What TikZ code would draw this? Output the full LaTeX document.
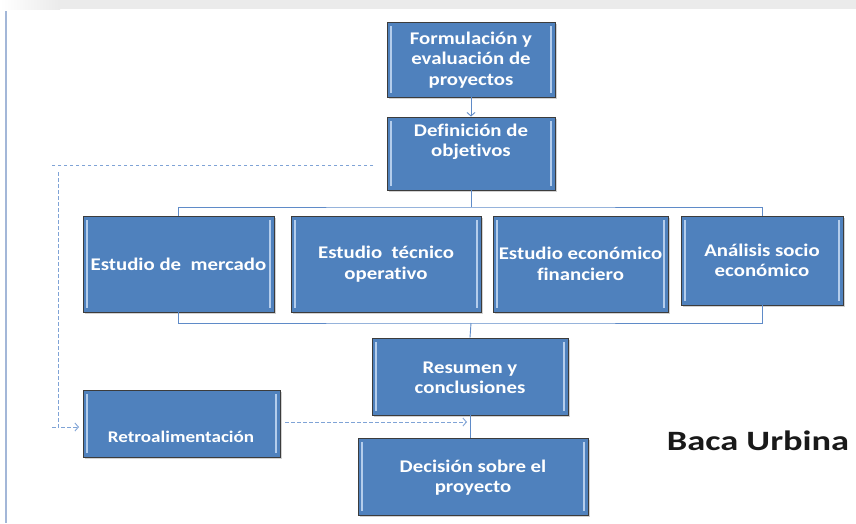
\documentclass[tikz,border=0pt]{standalone}
\usepackage{fontspec}
\newfontfamily\boxfont{Carlito}[FakeStretch=1.17,Ligatures={NoCommon}]
\newfontfamily\bacafont{Carlito}[FakeStretch=1.3,Ligatures={NoCommon}]
\usetikzlibrary{arrows.meta,shadows}
\definecolor{boxblue}{HTML}{4F81BD}
\definecolor{boxlight}{HTML}{B4CDEC}
\definecolor{boxedge}{HTML}{3C3C3C}
\definecolor{connblue}{HTML}{5F8BC8}
\definecolor{fbblue}{HTML}{7FA3D6}
\definecolor{edgeline}{HTML}{A3B7D8}
\begin{document}
\begin{tikzpicture}[x=1pt,y=-1pt,
  box/.style={draw=boxedge,line width=0.9pt,fill=boxblue,
    drop shadow={shadow xshift=1.5pt,shadow yshift=-1.5pt,opacity=0.35},
    path picture={
      \fill[boxlight] ([xshift=3pt,yshift=-4pt]path picture bounding box.north west)
         rectangle ([xshift=5pt,yshift=4pt]path picture bounding box.south west);
      \fill[boxlight] ([xshift=-3pt,yshift=-4pt]path picture bounding box.north east)
         rectangle ([xshift=-5pt,yshift=4pt]path picture bounding box.south east);
    }},
  btext/.style={text=white,align=center,inner sep=0pt,
    font=\boxfont\bfseries\fontsize{17.8}{20.5}\selectfont},
  conn/.style={draw=connblue,line width=0.9pt},
  fb/.style={draw=fbblue,line width=0.9pt,dash pattern=on 3.5pt off 2.5pt},
  tip/.style={-{Straight Barb[length=3.5pt,width=8pt]}}
]
\useasboundingbox (0,0) rectangle (856,523);
% background
\fill[white] (0,0) rectangle (856,523);
\shade[left color=white,right color=black!8] (0,0) rectangle (60,9);
\fill[black!8] (60,0) rectangle (856,9);
\draw[color=edgeline,line width=1.5pt] (6,11) -- (6,523);

% boxes
\node[box,minimum width=168pt,minimum height=75pt] (f) at (471,59.5) {};
\node[btext] (ft) at (471,60) {Formulación y\\evaluación de\\proyectos};
\node[box,minimum width=168pt,minimum height=73pt] (d) at (471,153.5) {};
\node[btext] (dt) at (471,142) {Definición de\\objetivos};
\node[box,minimum width=191pt,minimum height=96pt] (m) at (178.5,264) {};
\node[btext] (mt) at (178.5,264) {Estudio de\ \ mercado};
\node[box,minimum width=190pt,minimum height=96pt] (t) at (386,264) {};
\node[btext] (tt) at (386,264) {Estudio\ \ técnico\\operativo};
\node[box,minimum width=175pt,minimum height=96pt] (e) at (580.5,264) {};
\node[btext] (et) at (580.5,264) {Estudio económico\\financiero};
\node[box,minimum width=162pt,minimum height=89pt] (a) at (762,260.5) {};
\node[btext] (at) at (762,260.5) {Análisis socio\\económico};
\node[box,minimum width=196pt,minimum height=77pt] (r) at (470,376.5) {};
\node[btext] (rt) at (470,378) {Resumen y\\conclusiones};
\node[box,minimum width=197pt,minimum height=67pt] (rb) at (181.5,423.5) {};
\node[btext,font=\boxfont\bfseries\fontsize{16.3}{18}\selectfont] (rbt) at (181,437) {Retroalimentación};
\node[box,minimum width=230pt,minimum height=77pt] (dec) at (473,476.5) {};
\node[btext] (dect) at (473,477.5) {Decisión sobre el\\proyecto};

\node[font=\bacafont\bfseries\fontsize{28}{32}\selectfont,text=black!90,inner sep=0pt] (baca) at (758,441) {Baca Urbina};

% connectors
\draw[conn,tip] (f.south) -- (d.north);
\coordinate (tb) at (471,207);
\coordinate (bb) at (471,323);
\draw[conn] (d.south) -- (tb);
\draw[conn] (m.north) |- (tb) -| (a.north);
\draw[conn] (m.south) |- (bb) -| (a.south);
\draw[conn] (bb) -- (r.north);
\draw[conn] (r.south) -- (r.south |- dec.north);

% feedback
\coordinate (fb1) at (373,165);
\coordinate (fb2) at (52,165);
\coordinate (fb3) at (58,172);
\coordinate (fb4) at (52,427);
\coordinate (fb5) at (79,427);
\coordinate (rr) at (467,422);
\draw[fb] (fb1) -- (fb2);
\draw[fb,tip] (fb3) |- (fb5);
\draw[fb] (fb4) -- (fb3 |- fb4);
\draw[fb,tip] ([xshift=5pt]rb.east |- rr) -- (rr);
\end{tikzpicture}
\end{document}
